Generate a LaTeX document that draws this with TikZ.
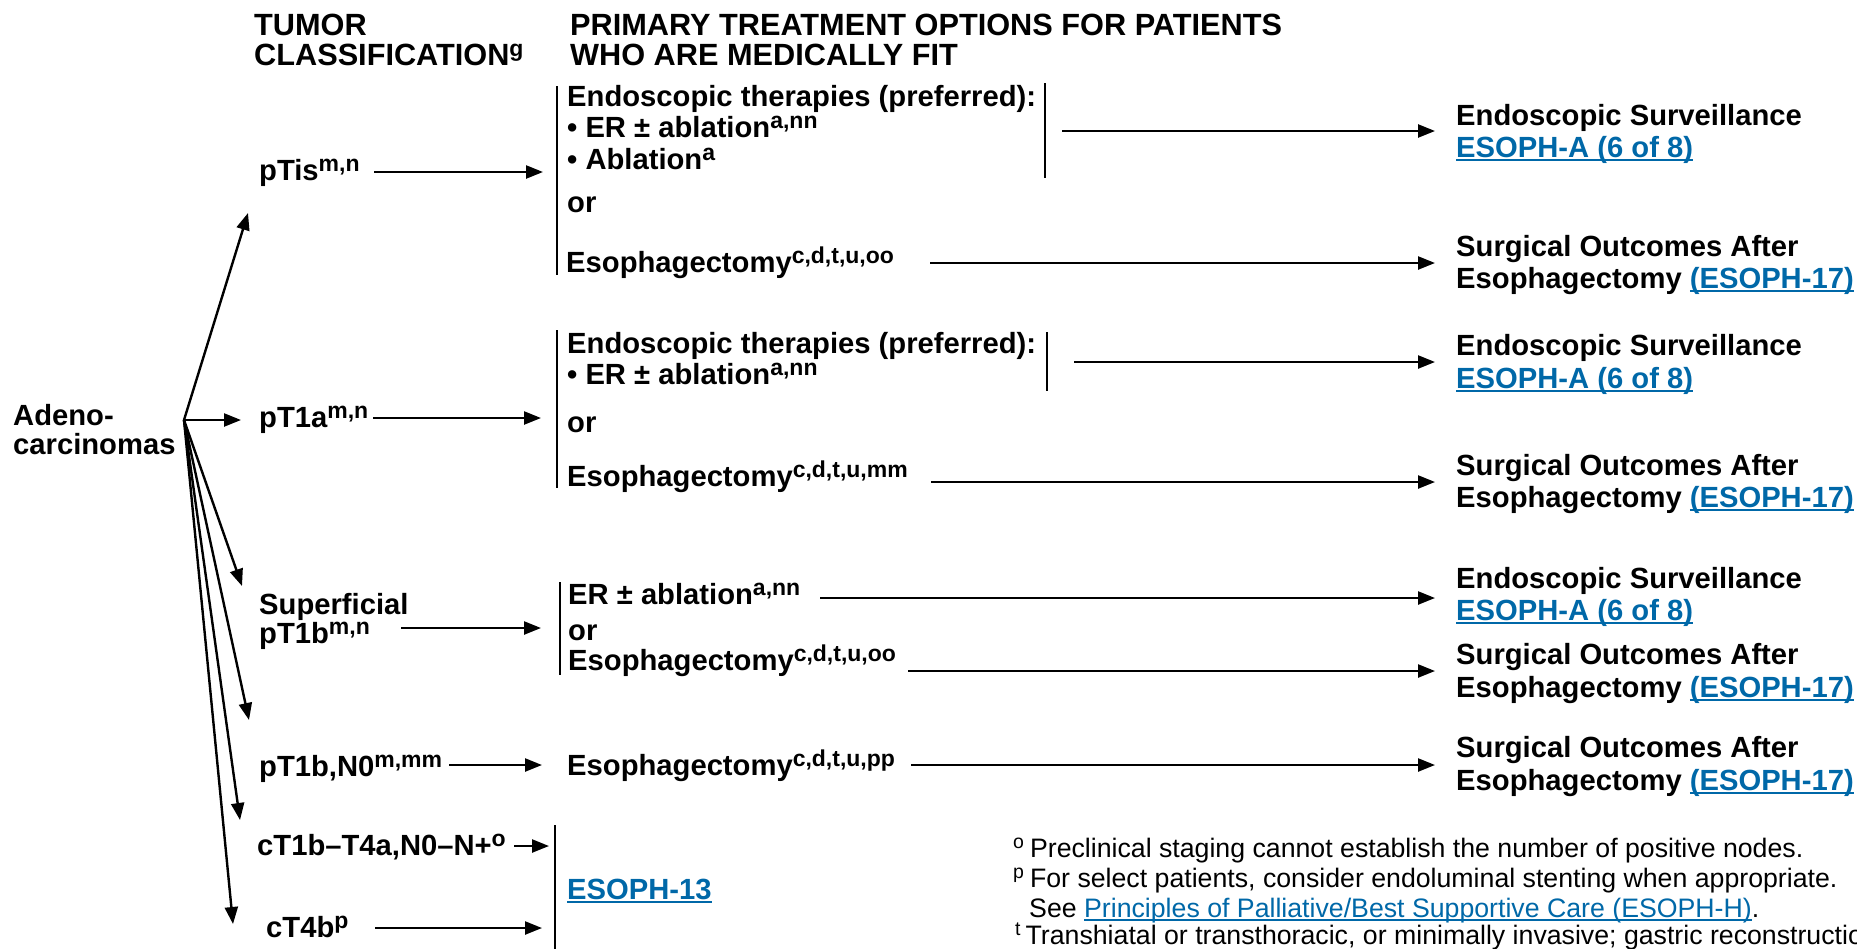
\documentclass[tikz,border=0pt]{standalone}
\usepackage{fontspec}
\setmainfont{Liberation Sans}
\usetikzlibrary{arrows.meta}
\definecolor{linkblue}{RGB}{0,104,168}
\newcommand\sps[1]{\raisebox{9pt}{\fontsize{23}{23}\selectfont #1}}
\newcommand\fsp[1]{\raisebox{8.5pt}{\fontsize{19.5}{19.5}\selectfont #1}}
\newcommand\lnk[1]{{\color{linkblue}\setbox0=\hbox{#1}\rlap{\rule[-4pt]{\wd0}{2pt}}\box0}}
\newcommand\flnk[1]{{\color{linkblue}\setbox0=\hbox{#1}\rlap{\rule[-3.5pt]{\wd0}{1.5pt}}\box0}}
\begin{document}
\begin{tikzpicture}[x=1pt,y=-1pt,
  txt/.style={anchor=base west,inner sep=0pt,font=\fontsize{29.2}{31}\selectfont\bfseries},
  hdr/.style={anchor=base west,inner sep=0pt,font=\fontsize{30.7}{32}\selectfont\bfseries},
  fnote/.style={anchor=base west,inner sep=0pt,font=\fontsize{26.7}{29}\selectfont},
  arr/.style={line width=2.4pt,-{Triangle[length=17pt,width=13pt]}},
  bar/.style={line width=2.4pt}]
\useasboundingbox (0,0) rectangle (1857,948);
\clip (0,0) rectangle (1857,948);

% headers
\node[hdr] (h1a) at (254,35) {TUMOR};
\node[hdr] (h1b) at (254,65) {CLASSIFICATION\sps{g}};
\node[hdr] (h2a) at (570,35) {PRIMARY TREATMENT OPTIONS FOR PATIENTS};
\node[hdr] (h2b) at (570,65) {WHO ARE MEDICALLY FIT};

% root
\node[txt] (ad1) at (13,425) {Adeno-};
\node[txt] (ad2) at (13,454) {carcinomas};
\coordinate (o) at (184,420);

% classifications
\node[txt] (pTis) at (259,180) {pTis\sps{m,n}};
\node[txt] (pT1a) at (259,427) {pT1a\sps{m,n}};
\node[txt] (sup1) at (259,614) {Superficial};
\node[txt] (sup2) at (259,643) {pT1b\sps{m,n}};
\node[txt] (n0) at (259,776) {pT1b,N0\sps{m,mm}};
\node[txt] (ct1) at (257,855) {cT1b–T4a,N0–N+\sps{o}};
\node[txt] (ct4) at (266,937) {cT4b\sps{p}};

\coordinate (tTis) at (248,213);
\coordinate (tT1a) at (241,420);
\coordinate (tSup) at (242,586);
\coordinate (tN0) at (249,720);
\coordinate (tcT1) at (240,820);
\coordinate (tcT4) at (233,924);
\foreach \t in {tTis,tT1a,tSup,tN0,tcT1,tcT4} \draw[arr] (o) -- (\t);

% group 1
\node[txt] (g1a) at (567,106) {Endoscopic therapies (preferred):};
\node[txt] (g1b) at (567,137) {• ER ± ablation\sps{a,nn}};
\node[txt] (g1c) at (567,169) {• Ablation\sps{a}};
\node[txt] (g1d) at (567,212) {or};
\node[txt] (g1e) at (566,272) {Esophagectomy\sps{c,d,t,u,oo}};
\coordinate (b1t) at (557,86); \coordinate (b1b) at (557,275);
\coordinate (b1rt) at (1045,83); \coordinate (b1rb) at (1045,178);
\draw[bar] (b1t) -- (b1b);
\draw[bar] (b1rt) -- (b1rb);

% group 2
\node[txt] (g2a) at (567,353) {Endoscopic therapies (preferred):};
\node[txt] (g2b) at (567,384) {• ER ± ablation\sps{a,nn}};
\node[txt] (g2c) at (567,432) {or};
\node[txt] (g2d) at (567,486) {Esophagectomy\sps{c,d,t,u,mm}};
\coordinate (b2t) at (557,330); \coordinate (b2b) at (557,488);
\coordinate (b2rt) at (1047,332); \coordinate (b2rb) at (1047,391);
\draw[bar] (b2t) -- (b2b);
\draw[bar] (b2rt) -- (b2rb);

% group 3
\node[txt] (g3a) at (568,604) {ER ± ablation\sps{a,nn}};
\node[txt] (g3b) at (568,640) {or};
\node[txt] (g3c) at (568,670) {Esophagectomy\sps{c,d,t,u,oo}};
\coordinate (b3t) at (560,582); \coordinate (b3b) at (560,675);
\draw[bar] (b3t) -- (b3b);

% group 4
\node[txt] (g4a) at (567,775) {Esophagectomy\sps{c,d,t,u,pp}};

% group 5
\node[txt] (e13) at (567,899) {\lnk{ESOPH-13}};
\coordinate (b4t) at (555,825); \coordinate (b4b) at (555,960);
\draw[bar] (b4t) -- (b4b);

% classification arrows
\coordinate (a1s) at (374,172); \coordinate (a1e) at (543,172);
\coordinate (a2s) at (373,418); \coordinate (a2e) at (541,418);
\coordinate (a3s) at (401,628); \coordinate (a3e) at (541,628);
\coordinate (a4s) at (449,765); \coordinate (a4e) at (542,765);
\coordinate (a5s) at (514,846); \coordinate (a5e) at (549,846);
\coordinate (a6s) at (375,928); \coordinate (a6e) at (542,928);
\draw[arr] (a1s) -- (a1e);
\draw[arr] (a2s) -- (a2e);
\draw[arr] (a3s) -- (a3e);
\draw[arr] (a4s) -- (a4e);
\draw[arr] (a5s) -- (a5e);
\draw[arr] (a6s) -- (a6e);

% outcomes
\node[txt] (r1a) at (1456,125) {Endoscopic Surveillance};
\node[txt] (r1b) at (1456,157) {\lnk{ESOPH-A (6 of 8)}};
\node[txt] (r2a) at (1456,256) {Surgical Outcomes After};
\node[txt] (r2b) at (1456,288) {Esophagectomy \lnk{(ESOPH-17)}};
\node[txt] (r3a) at (1456,355) {Endoscopic Surveillance};
\node[txt] (r3b) at (1456,388) {\lnk{ESOPH-A (6 of 8)}};
\node[txt] (r4a) at (1456,475) {Surgical Outcomes After};
\node[txt] (r4b) at (1456,507) {Esophagectomy \lnk{(ESOPH-17)}};
\node[txt] (r5a) at (1456,588) {Endoscopic Surveillance};
\node[txt] (r5b) at (1456,620) {\lnk{ESOPH-A (6 of 8)}};
\node[txt] (r6a) at (1456,664) {Surgical Outcomes After};
\node[txt] (r6b) at (1456,697) {Esophagectomy \lnk{(ESOPH-17)}};
\node[txt] (r7a) at (1456,757) {Surgical Outcomes After};
\node[txt] (r7b) at (1456,790) {Esophagectomy \lnk{(ESOPH-17)}};

% treatment arrows
\coordinate (c1s) at (1062,131); \coordinate (c1e) at (1435,131);
\coordinate (c2s) at (930,263);  \coordinate (c2e) at (1435,263);
\coordinate (c3s) at (1074,362); \coordinate (c3e) at (1435,362);
\coordinate (c4s) at (931,482);  \coordinate (c4e) at (1435,482);
\coordinate (c5s) at (820,598);  \coordinate (c5e) at (1435,598);
\coordinate (c6s) at (908,671);  \coordinate (c6e) at (1435,671);
\coordinate (c7s) at (911,765);  \coordinate (c7e) at (1435,765);
\foreach \i in {1,...,7} \draw[arr] (c\i s) -- (c\i e);

% footnotes
\node[fnote] (f1) at (1013,857) {\fsp{o}\hspace{6pt}Preclinical staging cannot establish the number of positive nodes.};
\node[fnote] (f2) at (1013,887) {\fsp{p}\hspace{6pt}For select patients, consider endoluminal stenting when appropriate.};
\node[fnote] (f3) at (1029,917) {See \flnk{Principles of Palliative/Best Supportive Care (ESOPH-H)}.};
\node[fnote] (f4) at (1015,944) {\fsp{t}\hspace{5pt}Transhiatal or transthoracic, or minimally invasive; gastric reconstruction};
\end{tikzpicture}
\end{document}
